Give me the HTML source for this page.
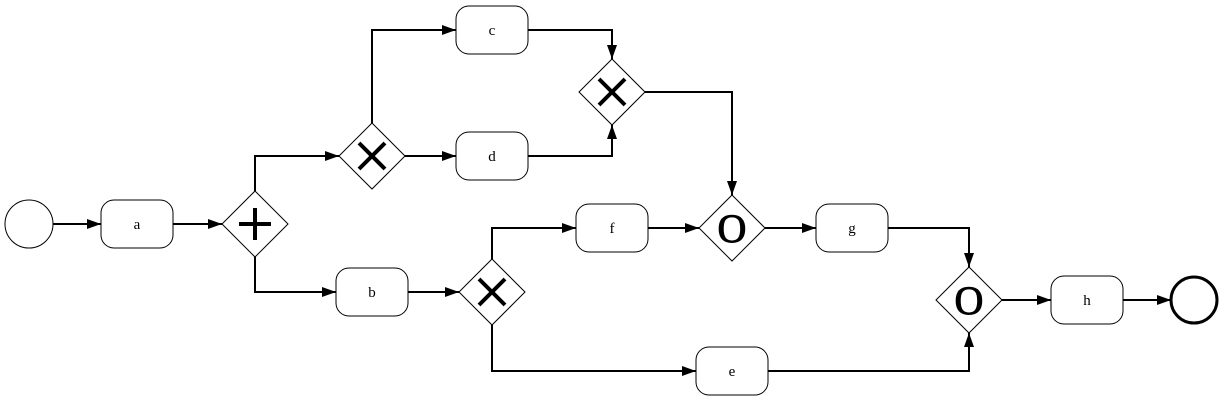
<!DOCTYPE html>
<html><head><meta charset="utf-8"><style>
html,body{margin:0;padding:0;background:#fff;width:1224px;height:401px;overflow:hidden}
svg{display:block}
text{font-family:"Liberation Serif",serif}
</style></head><body>
<svg width="1224" height="401" viewBox="0 0 1224 401" xmlns="http://www.w3.org/2000/svg">
<defs>
<marker id="ar" markerWidth="14" markerHeight="10" refX="14" refY="5" orient="auto" markerUnits="userSpaceOnUse">
<path d="M0,0 L14,5 L0,10 Z" fill="#000"/>
</marker>
</defs>
<g fill="none" stroke="#000" stroke-width="2" marker-end="url(#ar)">
<path d="M53,224 H101"/>
<path d="M173,224 H222"/>
<path d="M255,191 V156 H339"/>
<path d="M255,257 V292 H336"/>
<path d="M372,123 V30 H456"/>
<path d="M405,156 H456"/>
<path d="M528,30 H612 V59"/>
<path d="M528,156 H612 V125"/>
<path d="M645,92 H732 V195"/>
<path d="M408,292 H459"/>
<path d="M492,259 V228 H576"/>
<path d="M492,325 V371 H696"/>
<path d="M648,228 H699"/>
<path d="M765,228 H816"/>
<path d="M888,228 H969 V267"/>
<path d="M768,371 H969 V333"/>
<path d="M1002,300 H1051"/>
<path d="M1123,300 H1171"/>
</g>
<g fill="#fff" stroke="#000" stroke-width="1">
<circle cx="29" cy="224" r="24"/>
<circle cx="1194" cy="300" r="23" stroke-width="3"/>
<rect x="101" y="200" width="72" height="48" rx="13"/>
<rect x="336" y="268" width="72" height="48" rx="13"/>
<rect x="456" y="6" width="72" height="48" rx="13"/>
<rect x="456" y="132" width="72" height="48" rx="13"/>
<rect x="576" y="204" width="72" height="48" rx="13"/>
<rect x="816" y="204" width="72" height="48" rx="13"/>
<rect x="696" y="347" width="72" height="48" rx="13"/>
<rect x="1051" y="276" width="72" height="48" rx="13"/>
<path d="M255,191 L288,224 L255,257 L222,224 Z"/>
<path d="M372,123 L405,156 L372,189 L339,156 Z"/>
<path d="M492,259 L525,292 L492,325 L459,292 Z"/>
<path d="M612,59 L645,92 L612,125 L579,92 Z"/>
<path d="M732,195 L765,228 L732,261 L699,228 Z"/>
<path d="M969,267 L1002,300 L969,333 L936,300 Z"/>
</g>
<g stroke="#000" stroke-width="4" fill="none">
<path d="M255,208 V240 M239,224 H271"/>
<path d="M359,143 L385,169 M385,143 L359,169"/>
<path d="M479,279 L505,305 M505,279 L479,305"/>
<path d="M599,79 L625,105 M625,79 L599,105"/>
</g>
<g font-size="15" text-anchor="middle">
<text x="137" y="229">a</text>
<text x="372" y="297">b</text>
<text x="492" y="35">c</text>
<text x="492" y="161">d</text>
<text x="612" y="233">f</text>
<text x="852" y="233">g</text>
<text x="732" y="376">e</text>
<text x="1087" y="305">h</text>
</g>
<g font-size="40" text-anchor="middle" stroke="#000" stroke-width="1">
<text x="732" y="242">O</text>
<text x="969" y="314">O</text>
</g>
</svg>
</body></html>
